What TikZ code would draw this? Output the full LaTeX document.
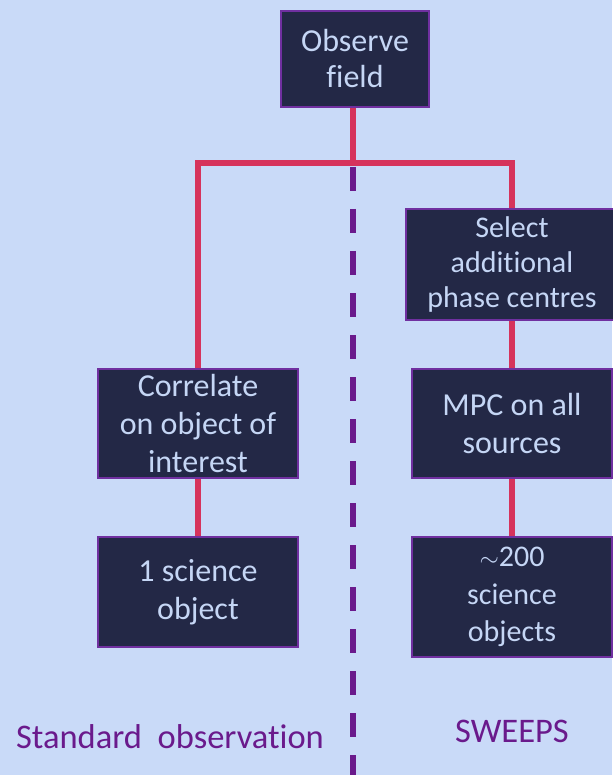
\documentclass[tikz,border=0pt]{standalone}
\usepackage{fontspec}
\setmainfont{Carlito}[Ligatures=NoCommon]
\definecolor{bgblue}{HTML}{C9DAF8}
\definecolor{boxnavy}{HTML}{232846}
\definecolor{boxedge}{HTML}{7030A0}
\definecolor{boxtext}{HTML}{C5D6F5}
\definecolor{linkred}{HTML}{D6335C}
\definecolor{splitpurple}{HTML}{6A1A8C}
\tikzset{
  stepbox/.style={draw=boxedge, line width=2pt, fill=boxnavy, text=boxtext,
    align=center, inner sep=0pt, font=\fontsize{32}{38}\selectfont},
  smalltext/.style={font=\fontsize{30}{35}\selectfont},
  link/.style={draw=linkred, line width=5.5pt},
  tag/.style={text=splitpurple, font=\fontsize{34.5}{40}\selectfont}
}
\begin{document}
\begin{tikzpicture}[x=1pt,y=-1pt]
  \fill[bgblue] (0,0) rectangle (612,775);
  \useasboundingbox (0,0) rectangle (612,775);
  % divider between the two modes
  \draw[splitpurple, line width=6pt, dash pattern=on 24pt off 18pt] (353,167) -- (353,775);
  \coordinate (split) at (353,163);
  \draw[link] (353,100) -- (split);
  \draw[link] (198,423) |- (split) -| (512,264);
  \draw[link] (198,423) -- (198,592);
  \draw[link] (512,264) -- (512,597);
  % boxes
  \node[stepbox, font=\fontsize{32}{36}\selectfont, minimum width=148pt, minimum height=96pt] (obs) at (355,59) {Observe\\field};
  \node[stepbox, smalltext, minimum width=212pt, minimum height=111pt] (sel) at (512,264.5) {Select\\additional\\phase centres};
  \node[stepbox, minimum width=200pt, minimum height=109pt] (cor) at (198,423.5) {Correlate\\on object of\\interest};
  \node[stepbox, minimum width=200pt, minimum height=109pt] (mpc) at (512,423.5) {MPC on all\\sources};
  \node[stepbox, minimum width=200pt, minimum height=110pt] (one) at (198,592) {1 science\\object};
  \node[stepbox, font=\fontsize{30}{37.5}\selectfont, minimum width=200pt, minimum height=120pt] (many) at (512,597) {$\sim$200\\science\\objects};
  % mode labels
  \node[tag] (std) at (170,737) {Standard\ \ observation};
  \node[tag] (swp) at (512,731) {SWEEPS};
\end{tikzpicture}
\end{document}
